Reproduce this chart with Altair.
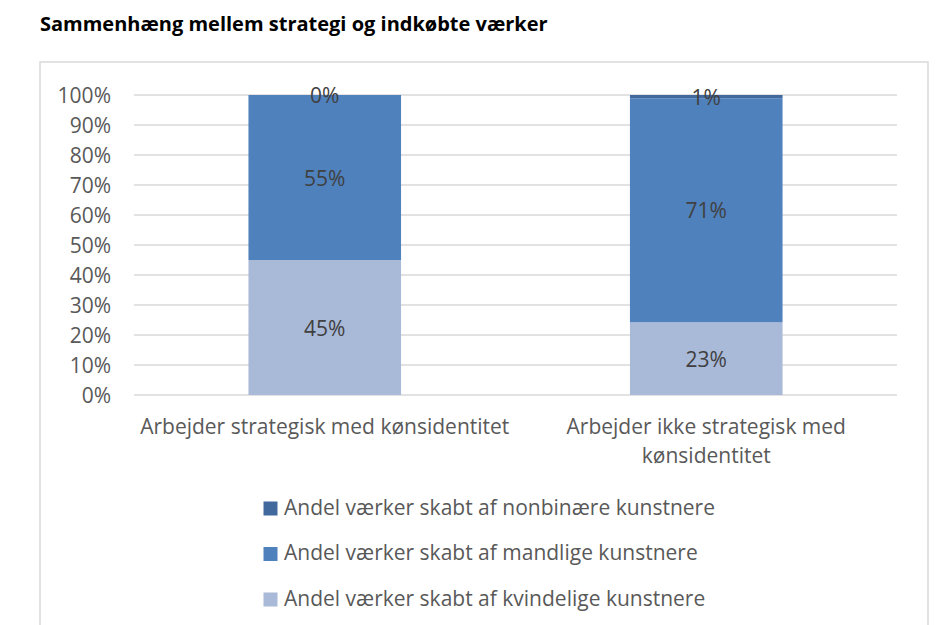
import altair as alt
import pandas as pd

categories = ["Arbejder strategisk med kønsidentitet",
              "Arbejder ikke strategisk med kønsidentitet"]
series = ["Andel værker skabt af nonbinære kunstnere",
          "Andel værker skabt af mandlige kunstnere",
          "Andel værker skabt af kvindelige kunstnere"]
female = [45, 23]
male = [55, 71]
nonbinary = [0, 1]
colors = ["#41699E", "#4F81BD", "#A9B9D8"]
tick_values = [0.0, 0.1, 0.2, 0.3, 0.4, 0.5, 0.6, 0.7, 0.8, 0.9, 1.0]
tick_labels = ["0%", "10%", "20%", "30%", "40%", "50%", "60%", "70%", "80%", "90%", "100%"]

rows = []
for i, c in enumerate(categories):
    rows.append({"cat": c, "series": series[2], "value": female[i], "order": 0})
    rows.append({"cat": c, "series": series[1], "value": male[i], "order": 1})
    rows.append({"cat": c, "series": series[0], "value": nonbinary[i], "order": 2})
df = pd.DataFrame(rows)
ticks_df = pd.DataFrame({"v": tick_values, "lbl": tick_labels})

FONT = "Open Sans"
FS = 21

base = alt.Chart(df).transform_stack(
    stack="value", groupby=["cat"], as_=["y0", "y1"], offset="normalize",
    sort=[alt.SortField("order", order="ascending")]
).transform_calculate(
    mid="(datum.y0 + datum.y1) / 2",
    lbl="datum.value + '%'"
)

xaxis = alt.Axis(labelAngle=0, labelFontSize=FS, labelColor="#595959",
                 labelFont=FONT, labelPadding=32, ticks=False, domain=False,
                 grid=False,
                 labelLineHeight=29, labelLimit=800, labelOverlap=False,
                 labelBaseline="middle",
                 labelExpr="datum.value == 'Arbejder ikke strategisk med kønsidentitet' ? ['Arbejder ikke strategisk med', 'kønsidentitet'] : datum.value")
xscale = alt.Scale(paddingInner=0.6, paddingOuter=0.3)
yscale = alt.Scale(domain=[0, 1])

grid = alt.Chart(ticks_df).mark_rule(color="#D9D9D9", strokeWidth=1.3).encode(
    y=alt.Y("v:Q", scale=yscale, axis=None),
)

ylabels = alt.Chart(ticks_df).mark_text(
    align="right", baseline="middle", fontSize=FS, font=FONT, color="#595959", dy=1.5
).encode(
    y=alt.Y("v:Q", scale=yscale, axis=None),
    x=alt.value(-23),
    text="lbl:N",
)

bars = base.mark_bar().encode(
    x=alt.X("cat:N", sort=categories, title=None, scale=xscale, axis=xaxis),
    y=alt.Y("y0:Q", title=None, scale=yscale, axis=None),
    y2="y1:Q",
    color=alt.Color("series:N", title=None,
                    scale=alt.Scale(domain=series, range=colors),
                    legend=alt.Legend(orient="none", legendX=126, legendY=403,
                                      symbolType="square", symbolSize=196,
                                      symbolStrokeWidth=0, labelFontSize=FS,
                                      labelFont=FONT, labelColor="#595959",
                                      rowPadding=23.5, labelOffset=3,
                                      labelLimit=600)),
)

texts = base.mark_text(fontSize=FS, font=FONT, color="#404040", baseline="middle", dy=2).encode(
    x=alt.X("cat:N", sort=categories, title=None, scale=xscale, axis=xaxis),
    y=alt.Y("mid:Q", title=None, scale=yscale, axis=None),
    text="lbl:N",
)

frame = alt.Chart(pd.DataFrame({"a": [0]})).mark_rect(
    fill=None, stroke="#D9D9D9", strokeWidth=1.5
).encode(
    x=alt.value(-94), x2=alt.value(794), y=alt.value(-33), y2=alt.value(560)
)

chart = alt.layer(frame, grid, bars, texts, ylabels).properties(
    width=763, height=300,
    background="white",
    padding={"left": 134, "top": 95, "right": 48, "bottom": 230},
    autosize=alt.AutoSizeParams(type="none"),
    title=alt.Title("Sammenhæng mellem strategi og indkøbte værker",
                    anchor="start", frame="group", dx=-94, fontSize=20,
                    font=FONT, fontWeight="bold", color="#000000", offset=26),
).configure_view(stroke=None)

chart.save("out.html", embed_options={"renderer": "svg", "actions": False})
